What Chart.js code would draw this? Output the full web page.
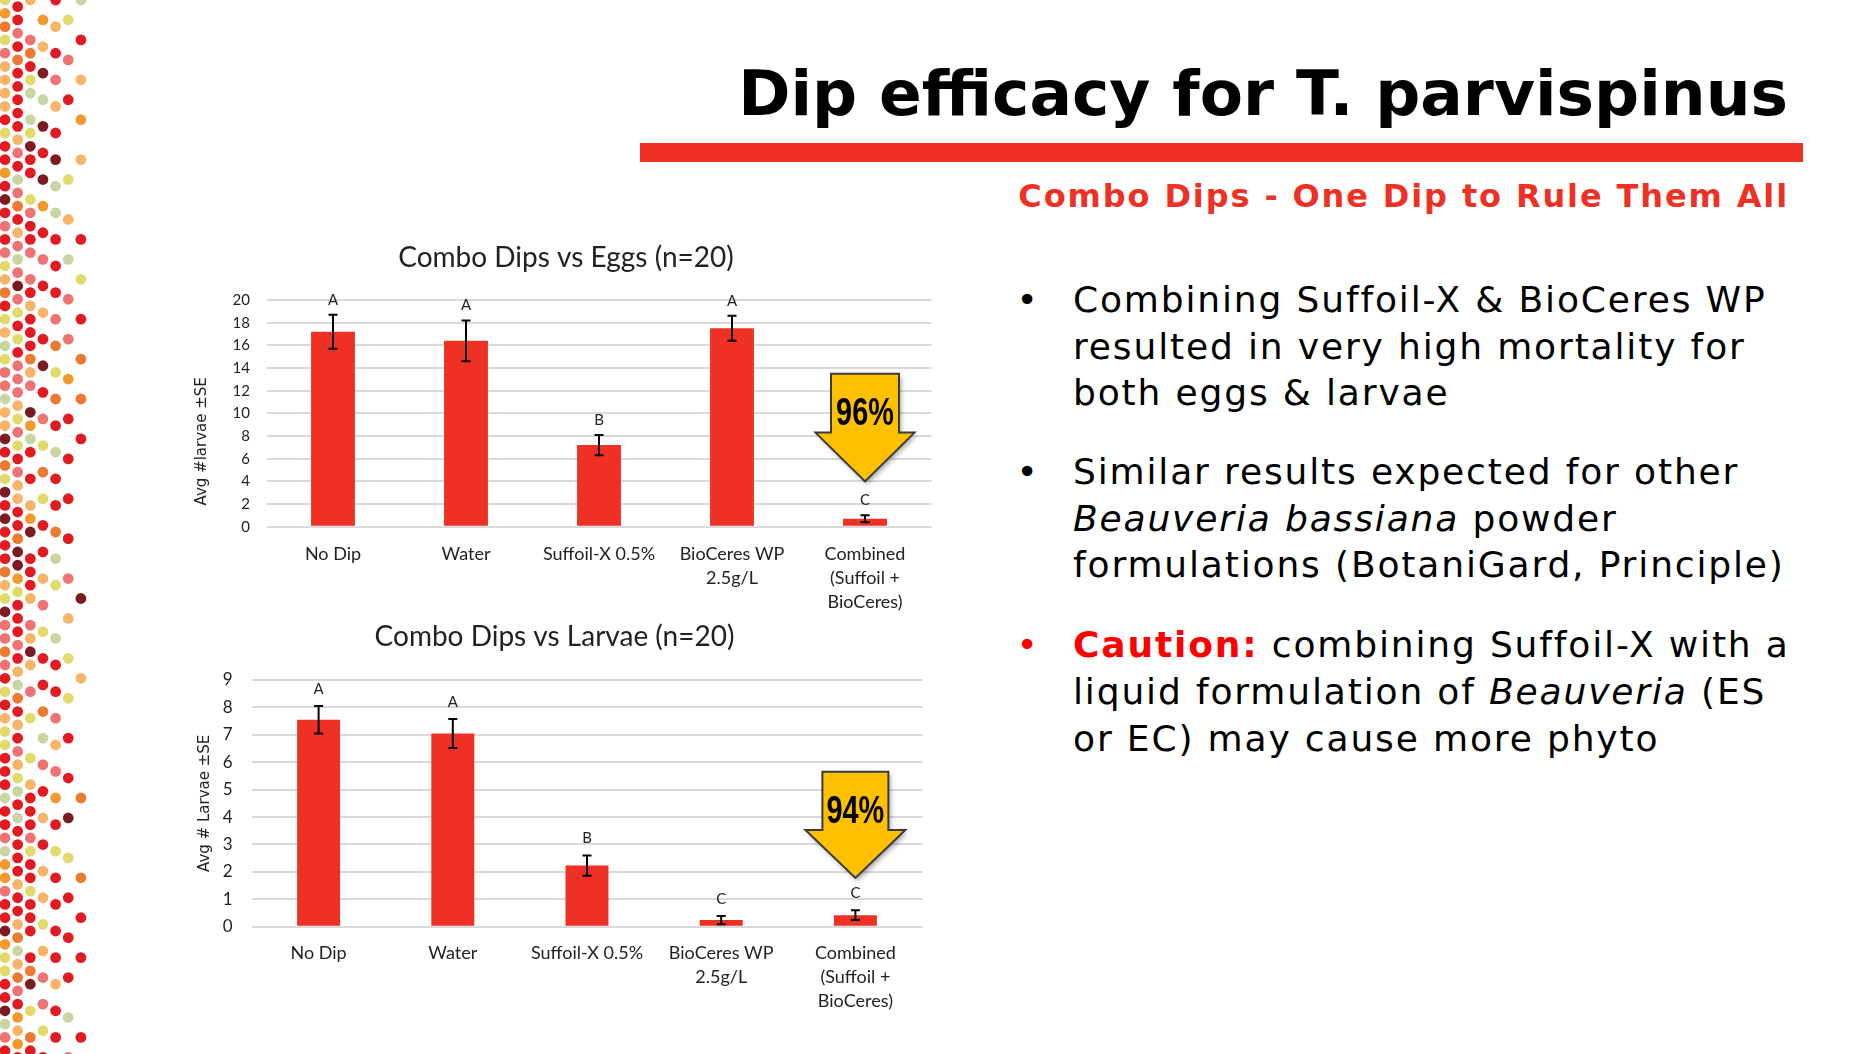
<!DOCTYPE html>
<html>
<head>
<meta charset="utf-8">
<script src="https://cdn.jsdelivr.net/npm/chart.js@4.4.1/dist/chart.umd.min.js"></script>
<style>
  body { margin: 0; width: 1873px; height: 1054px; background: #fff; position: relative; overflow: hidden; }
  #dots { position: absolute; left: 0; top: 0; }
  .title { position: absolute; right: 85px; top: 62.3px; font: bold 63px/63px "DejaVu Sans", Verdana, sans-serif; color: #000; white-space: nowrap; }
  .rule { position: absolute; left: 640px; top: 142.5px; width: 1163px; height: 19.5px; background: #EE3124; }
  .subtitle { position: absolute; right: 84px; top: 179.6px; font: bold 32px/32px "DejaVu Sans", Verdana, sans-serif; letter-spacing: 1.87px; color: #EE3124; white-space: nowrap; }
  .bullet { position: absolute; left: 1073px; font: 36px/46.7px "DejaVu Sans", Verdana, sans-serif; letter-spacing: 1.85px; color: #000; white-space: nowrap; }
  .bullet .dot { position: absolute; left: -56.6px; top: 0; letter-spacing: 0; }
  .red { color: #FF0000; }
  .chart { position: absolute; }
</style>
</head>
<body>
<canvas id="dots" width="95" height="1054"></canvas>

<div class="title">Dip efficacy for T. parvispinus</div>
<div class="rule"></div>
<div class="subtitle">Combo Dips - One Dip to Rule Them All</div>

<div class="bullet" style="top:277px"><span class="dot">•</span>Combining Suffoil-X &amp; BioCeres WP<br>resulted in very high mortality for<br>both eggs &amp; larvae</div>
<div class="bullet" style="top:449px"><span class="dot">•</span>Similar results expected for other<br><i>Beauveria bassiana</i> powder<br>formulations (BotaniGard, Principle)</div>
<div class="bullet" style="top:622.3px"><span class="dot red">•</span><b class="red">Caution:</b> combining Suffoil-X with a<br>liquid formulation of <i>Beauveria</i> (ES<br>or EC) may cause more phyto</div>

<canvas id="eggs" class="chart" width="800" height="400" style="left:160px;top:230px"></canvas>
<canvas id="larvae" class="chart" width="800" height="430" style="left:160px;top:610px"></canvas>

<script>
// treatments on the x axis (multi-line labels)
const categories = [['No Dip'], ['Water'], ['Suffoil-X 0.5%'], ['BioCeres WP', '2.5g/L'], ['Combined', '(Suffoil +', 'BioCeres)']];

// eggs chart
const eggMeans = [17.2, 16.4, 7.2, 17.5, 0.7];
const eggSE = [1.5, 1.8, 0.9, 1.1, 0.3];
const eggLetters = ['A', 'A', 'B', 'A', 'C'];

// larvae chart
const larvaeMeans = [7.55, 7.05, 2.23, 0.24, 0.42];
const larvaeSE = [0.5, 0.53, 0.37, 0.15, 0.18];
const larvaeLetters = ['A', 'A', 'B', 'C', 'C'];

// reduction callouts (index of bar, arrow extent in axis units)
const eggCallout = { index: 4, top: 13.5, head: 8.3, tip: 4.0, text: '96%' };
const larvaeCallout = { index: 4, top: 5.65, head: 3.53, tip: 1.78, text: '94%' };

const RED = '#EE3124';
const GRID = '#d9d9d9';
const INK = '#222';
const CHART_FONT = 'Lato, "Open Sans", sans-serif';

// decorative dot strip on the left
const drawDots = () => {
    const cv = document.getElementById('dots');
    const ctx = cv.getContext('2d');
    let seed = 424242;
    const rnd = () => {
        seed = (seed * 1103515245 + 12345) % 2147483648;
        return seed / 2147483648;
    };
    const colors = ['#E11B22', '#E11B22', '#E11B22', '#E11B22', '#E11B22', '#7A1C21', '#F29A2E', '#F7B56A', '#F7B56A',
        '#E3DA6C', '#E3DA6C', '#C9D6A3', '#EE7474', '#EE7474', '#EC7A30'];
    // every n-th row is filled in each column, getting sparser to the right
    const every = [1, 1, 1, 2, 2, 3, 3];
    const skip = [0, 0.05, 0.25, 0, 0.05, 0.1, 0.2];
    for (let c = 0; c < every.length; c++) {
        const x = 5 + c * 12.65;
        let row = 0;
        for (let y = (c % 2) ? 6.65 : 0; y < 1064; y += 13.3, row++) {
            if ((row + c) % every[c] !== 0) continue;
            if (rnd() < skip[c]) continue;
            ctx.fillStyle = colors[Math.floor(rnd() * colors.length)];
            ctx.beginPath();
            ctx.arc(x, y, 5.4, 0, Math.PI * 2);
            ctx.fill();
        }
    }
};

// error bars, significance letters, arrow callout and y title
const annotations = {
    id: 'annotations',
    afterDatasetsDraw(chart, args, opts) {
        const { ctx, chartArea } = chart;
        const x = chart.scales.x;
        const y = chart.scales.y;
        const means = chart.data.datasets[0].data;

        ctx.save();
        // error bars
        ctx.strokeStyle = '#000';
        ctx.lineWidth = 2;
        means.forEach((m, i) => {
            const px = x.getPixelForValue(i);
            const hi = y.getPixelForValue(m + opts.se[i]);
            const lo = y.getPixelForValue(m - opts.se[i]);
            ctx.beginPath();
            ctx.moveTo(px, hi); ctx.lineTo(px, lo);
            ctx.moveTo(px - 4.5, hi); ctx.lineTo(px + 4.5, hi);
            ctx.moveTo(px - 4.5, lo); ctx.lineTo(px + 4.5, lo);
            ctx.stroke();

            ctx.fillStyle = INK;
            ctx.font = '15px ' + CHART_FONT;
            ctx.textAlign = 'center';
            ctx.textBaseline = 'middle';
            ctx.fillText(opts.letters[i], px, hi - opts.letterGap);
        });

        // arrow callout
        const c = opts.callout;
        const cx = x.getPixelForValue(c.index);
        const yTop = y.getPixelForValue(c.top);
        const yHead = y.getPixelForValue(c.head);
        const yTip = y.getPixelForValue(c.tip);
        const sw = opts.shaft, hw = opts.headW;
        ctx.beginPath();
        ctx.moveTo(cx - sw, yTop);
        ctx.lineTo(cx + sw, yTop);
        ctx.lineTo(cx + sw, yHead);
        ctx.lineTo(cx + hw, yHead);
        ctx.lineTo(cx, yTip);
        ctx.lineTo(cx - hw, yHead);
        ctx.lineTo(cx - sw, yHead);
        ctx.closePath();
        ctx.shadowColor = 'rgba(0,0,0,0.35)';
        ctx.shadowBlur = 5;
        ctx.shadowOffsetX = 2;
        ctx.shadowOffsetY = 3;
        ctx.fillStyle = '#FFC000';
        ctx.fill();
        ctx.shadowColor = 'transparent';
        ctx.strokeStyle = '#3a3a3a';
        ctx.lineWidth = 2;
        ctx.stroke();

        // condensed bold percentage
        ctx.save();
        ctx.translate(cx, yTop + 41);
        ctx.scale(0.76, 1);
        ctx.fillStyle = '#000';
        ctx.font = 'bold 38px "Liberation Sans", Arial, sans-serif';
        ctx.textAlign = 'center';
        ctx.textBaseline = 'middle';
        ctx.fillText(c.text, 0, 0);
        ctx.restore();

        // y axis title
        ctx.translate(opts.yTitleX, (chartArea.top + chartArea.bottom) / 2 + opts.yTitleShift);
        ctx.rotate(-Math.PI / 2);
        ctx.font = opts.yTitleSize + 'px "DejaVu Sans", Verdana, sans-serif';
        ctx.fillStyle = INK;
        ctx.textAlign = 'center';
        ctx.textBaseline = 'middle';
        ctx.fillText(opts.yTitle, 0, 0);
        ctx.restore();
    }
};

const makeChart = (id, cfg) => {
    return new Chart(document.getElementById(id), {
        type: 'bar',
        data: {
            labels: categories,
            datasets: [{
                data: cfg.means,
                backgroundColor: RED,
                barPercentage: cfg.barPct,
                categoryPercentage: 1
            }]
        },
        options: {
            responsive: false,
            animation: false,
            devicePixelRatio: 1,
            layout: { padding: { left: cfg.padLeft, right: cfg.padRight, top: 0, bottom: 0 } },
            plugins: {
                legend: { display: false },
                tooltip: { enabled: false },
                title: {
                    display: true,
                    text: cfg.title,
                    color: INK,
                    font: { family: CHART_FONT, size: 28, weight: 'normal', lineHeight: 1.2 },
                    padding: { top: cfg.titleTop, bottom: 70 - 33.6 - cfg.titleTop }
                },
                annotations: cfg.notes
            },
            scales: {
                x: {
                    grid: { display: false },
                    border: { display: false },
                    ticks: {
                        color: INK,
                        padding: cfg.xPad,
                        font: { family: CHART_FONT, size: 18, lineHeight: cfg.xLine }
                    },
                    afterFit: (s) => { s.height = cfg.xHeight; }
                },
                y: {
                    min: 0,
                    max: cfg.max,
                    grid: { color: GRID, lineWidth: 2, drawTicks: false },
                    border: { display: false },
                    ticks: {
                        stepSize: cfg.step,
                        color: INK,
                        padding: cfg.yPad,
                        font: { family: CHART_FONT, size: cfg.tickSize }
                    },
                    afterFit: (s) => { s.width = cfg.yWidth; }
                }
            }
        },
        plugins: [annotations]
    });
};

drawDots();

makeChart('eggs', {
    means: eggMeans,
    title: 'Combo Dips vs Eggs (n=20)',
    titleTop: 11,
    barPct: 0.33,
    padLeft: 40.5,
    padRight: 28.5,
    max: 20, step: 2, tickSize: 15,
    yWidth: 66, yPad: 16.5,
    xHeight: 103.3, xPad: 7, xLine: 24 / 18,
    notes: {
        se: eggSE, letters: eggLetters, letterGap: 15,
        callout: eggCallout, shaft: 34, headW: 49.5,
        yTitle: 'Avg #larvae \u00b1SE', yTitleX: 42, yTitleShift: 28, yTitleSize: 15
    }
});

makeChart('larvae', {
    means: larvaeMeans,
    title: 'Combo Dips vs Larvae (n=20)',
    titleTop: 10,
    barPct: 0.32,
    padLeft: 26.5,
    padRight: 37.5,
    max: 9, step: 1, tickSize: 17,
    yWidth: 65, yPad: 19,
    xHeight: 113.3, xPad: 6.8, xLine: 24 / 18,
    notes: {
        se: larvaeSE, letters: larvaeLetters, letterGap: 17,
        callout: larvaeCallout, shaft: 33, headW: 50,
        yTitle: 'Avg # Larvae \u00b1SE', yTitleX: 45, yTitleShift: 0, yTitleSize: 15
    }
});
</script>
</body>
</html>
